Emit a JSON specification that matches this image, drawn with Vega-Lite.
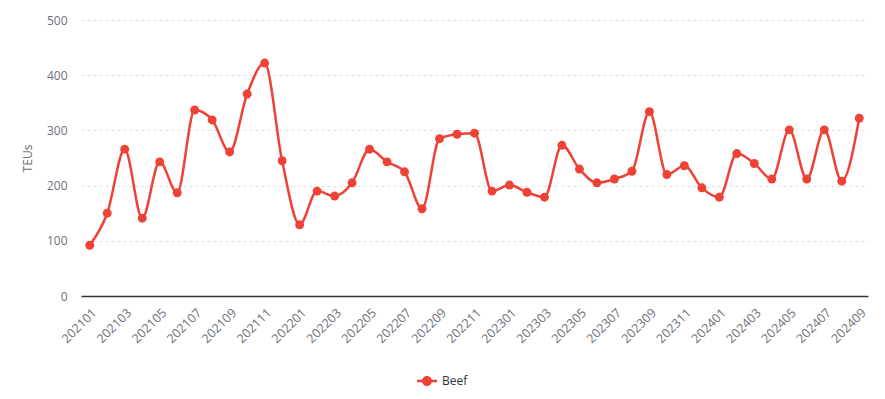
{
  "$schema": "https://vega.github.io/schema/vega-lite/v6.json",
  "width": 787,
  "height": 276,
  "autosize": {"type": "none"},
  "padding": {"left": 81, "top": 20, "right": 17, "bottom": 103},
  "background": "white",
  "config": {"view": {"stroke": null}, "font": "Open Sans"},
  "data": {"values": [
    {"month": "202101", "teu": 92, "series": "Beef"},
    {"month": "202102", "teu": 150, "series": "Beef"},
    {"month": "202103", "teu": 266, "series": "Beef"},
    {"month": "202104", "teu": 141, "series": "Beef"},
    {"month": "202105", "teu": 243, "series": "Beef"},
    {"month": "202106", "teu": 187, "series": "Beef"},
    {"month": "202107", "teu": 337, "series": "Beef"},
    {"month": "202108", "teu": 319, "series": "Beef"},
    {"month": "202109", "teu": 261, "series": "Beef"},
    {"month": "202110", "teu": 366, "series": "Beef"},
    {"month": "202111", "teu": 422, "series": "Beef"},
    {"month": "202112", "teu": 245, "series": "Beef"},
    {"month": "202201", "teu": 129, "series": "Beef"},
    {"month": "202202", "teu": 190, "series": "Beef"},
    {"month": "202203", "teu": 181, "series": "Beef"},
    {"month": "202204", "teu": 205, "series": "Beef"},
    {"month": "202205", "teu": 266, "series": "Beef"},
    {"month": "202206", "teu": 243, "series": "Beef"},
    {"month": "202207", "teu": 225, "series": "Beef"},
    {"month": "202208", "teu": 158, "series": "Beef"},
    {"month": "202209", "teu": 285, "series": "Beef"},
    {"month": "202210", "teu": 293, "series": "Beef"},
    {"month": "202211", "teu": 295, "series": "Beef"},
    {"month": "202212", "teu": 190, "series": "Beef"},
    {"month": "202301", "teu": 201, "series": "Beef"},
    {"month": "202302", "teu": 188, "series": "Beef"},
    {"month": "202303", "teu": 179, "series": "Beef"},
    {"month": "202304", "teu": 273, "series": "Beef"},
    {"month": "202305", "teu": 230, "series": "Beef"},
    {"month": "202306", "teu": 205, "series": "Beef"},
    {"month": "202307", "teu": 212, "series": "Beef"},
    {"month": "202308", "teu": 226, "series": "Beef"},
    {"month": "202309", "teu": 334, "series": "Beef"},
    {"month": "202310", "teu": 220, "series": "Beef"},
    {"month": "202311", "teu": 236, "series": "Beef"},
    {"month": "202312", "teu": 196, "series": "Beef"},
    {"month": "202401", "teu": 179, "series": "Beef"},
    {"month": "202402", "teu": 258, "series": "Beef"},
    {"month": "202403", "teu": 240, "series": "Beef"},
    {"month": "202404", "teu": 212, "series": "Beef"},
    {"month": "202405", "teu": 301, "series": "Beef"},
    {"month": "202406", "teu": 212, "series": "Beef"},
    {"month": "202407", "teu": 301, "series": "Beef"},
    {"month": "202408", "teu": 208, "series": "Beef"},
    {"month": "202409", "teu": 322, "series": "Beef"}
  ]},
  "encoding": {
    "x": {
      "field": "month", "type": "ordinal", "sort": null,
      "scale": {"type": "point", "padding": 0.5},
      "axis": {
        "title": null,
        "values": ["202101","202103","202105","202107","202109","202111","202201","202203","202205","202207","202209","202211","202301","202303","202305","202307","202309","202311","202401","202403","202405","202407","202409"],
        "labelAngle": -45,
        "labelColor": "#6e7079",
        "labelFontSize": 12.5,
        "labelPadding": 10,
        "ticks": false,
        "grid": false,
        "domainColor": "#333333",
        "domainWidth": 1.5
      }
    },
    "y": {
      "field": "teu", "type": "quantitative",
      "scale": {"domain": [0, 500], "nice": false},
      "axis": {
        "title": "TEUs",
        "titleColor": "#6e7079",
        "titleFontSize": 12,
        "titleFontWeight": "normal",
        "titlePadding": 12,
        "values": [0, 100, 200, 300, 400, 500],
        "labelColor": "#6e7079",
        "labelFontSize": 12,
        "labelPadding": 14,
        "ticks": false,
        "domain": false,
        "gridColor": "#e0e0e0",
        "gridDash": [3, 3]
      }
    },
    "color": {
      "field": "series", "type": "nominal",
      "scale": {"domain": ["Beef"], "range": ["#ee4237"]},
      "legend": {
        "title": null,
        "orient": "none",
        "legendX": 336,
        "legendY": 351,
        "symbolType": "M-1,-0.12 H1 V0.12 H-1 Z M0.5,0 A0.5,0.5 0 1,1 -0.5,0 A0.5,0.5 0 1,1 0.5,0 Z",
        "symbolSize": 400,
        "symbolStrokeWidth": 0,
        "labelFontSize": 12,
        "labelColor": "#333333",
        "labelOffset": 5
      }
    }
  },
  "layer": [
    {"mark": {"type": "line", "interpolate": "monotone", "strokeWidth": 2.5}},
    {"mark": {"type": "point", "filled": true, "opacity": 1, "size": 80}}
  ]
}
